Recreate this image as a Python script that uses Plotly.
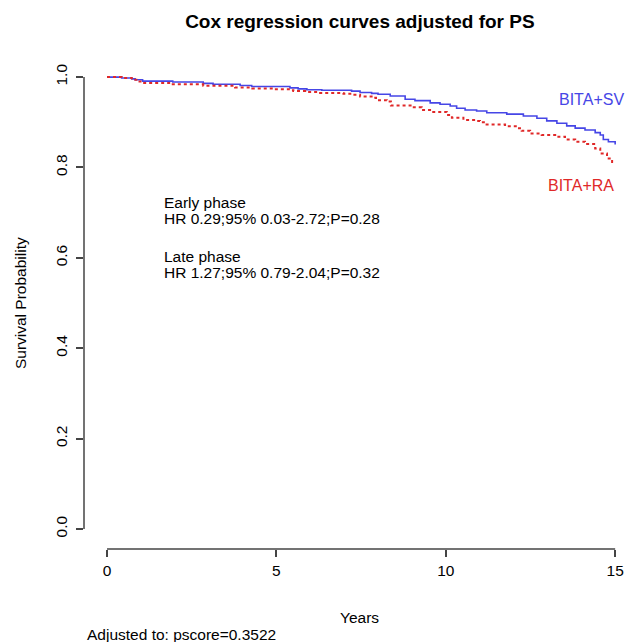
import plotly.graph_objects as go

# ---- data ----
sv_time = [0, 0.43, 0.73, 0.83, 1.05, 1.94, 2.84, 3.13, 3.93, 4.27, 5.4, 5.64, 5.9, 6.34, 7.22,
           7.47, 7.81, 8.0, 8.36, 8.8, 9.09, 9.54, 9.83, 10.13, 10.32, 10.57, 10.91, 11.21, 11.8,
           12.29, 12.69, 12.98, 13.28, 13.57, 13.82, 14.11, 14.41, 14.56, 14.65, 14.8, 15.0]
sv_surv = [1.0, 0.998, 0.996, 0.994, 0.991, 0.989, 0.986, 0.984, 0.9815, 0.979, 0.976, 0.974, 0.972,
           0.971, 0.969, 0.966, 0.964, 0.962, 0.958, 0.951, 0.948, 0.943, 0.940, 0.936, 0.931, 0.927,
           0.925, 0.921, 0.918, 0.914, 0.909, 0.903, 0.898, 0.892, 0.887, 0.883, 0.877, 0.872, 0.862,
           0.857, 0.851]

ra_time = [0, 0.43, 0.73, 0.9, 1.05, 1.94, 2.84, 3.78, 4.29, 4.91, 5.4, 5.5, 5.85, 6.29, 6.98, 7.22,
           7.47, 7.81, 7.94, 8.26, 8.38, 9.0, 9.29, 9.59, 10.03, 10.18, 10.52, 10.91, 11.01, 11.16,
           11.75, 12.1, 12.24, 12.49, 12.83, 13.28, 13.52, 13.82, 14.11, 14.41, 14.56, 14.76, 14.91, 15.0]
ra_surv = [1.0, 0.998, 0.994, 0.990, 0.987, 0.984, 0.981, 0.977, 0.975, 0.973, 0.971, 0.969, 0.967,
           0.965, 0.963, 0.961, 0.957, 0.954, 0.949, 0.946, 0.937, 0.933, 0.927, 0.923, 0.916, 0.910,
           0.905, 0.903, 0.900, 0.895, 0.891, 0.887, 0.881, 0.875, 0.872, 0.868, 0.862, 0.857, 0.852,
           0.842, 0.831, 0.820, 0.812, 0.812]

x_ticks = [0, 5, 10, 15]
y_ticks = [0.0, 0.2, 0.4, 0.6, 0.8, 1.0]
y_tick_text = ["0.0", "0.2", "0.4", "0.6", "0.8", "1.0"]

title_text = "Cox regression curves adjusted for PS"
x_title = "Years"
y_title = "Survival Probability"
footnote = "Adjusted to: pscore=0.3522"
early_lines = ["Early phase", "HR 0.29;95% 0.03-2.72;P=0.28"]
late_lines = ["Late phase", "HR 1.27;95% 0.79-2.04;P=0.32"]

BLUE = "#4646e6"
RED = "#e02828"
AX = "#444444"
FONT = "Liberation Sans, Arial, sans-serif"

fig = go.Figure()
fig.add_trace(go.Scatter(x=sv_time, y=sv_surv, mode="lines", line_shape="hv",
                         line=dict(color=BLUE, width=1.6), name="BITA+SV", showlegend=False))
fig.add_trace(go.Scatter(x=ra_time, y=ra_surv, mode="lines", line_shape="hv",
                         line=dict(color=RED, width=2, dash="dot"), name="BITA+RA", showlegend=False))

# R-style detached axis lines
fig.add_shape(type="line", xref="x", yref="paper", x0=x_ticks[0], x1=x_ticks[-1], y0=0, y1=0,
              line=dict(color=AX, width=1.5))
fig.add_shape(type="line", xref="paper", yref="y", x0=0, x1=0, y0=y_ticks[0], y1=y_ticks[-1],
              line=dict(color=AX, width=1.5))

ann = []
ann.append(dict(text=x_title, xref="paper", yref="paper", x=0.509, y=-0.139, showarrow=False,
                xanchor="center", yanchor="middle", font=dict(size=15.5, color="black", family=FONT)))
ann.append(dict(text=footnote, xref="paper", yref="paper", x=0.002, y=-0.1755, showarrow=False,
                xanchor="left", yanchor="middle", font=dict(size=15.5, color="black", family=FONT)))
ann.append(dict(text=y_title, xref="paper", yref="paper", x=-0.118, y=0.502, showarrow=False,
                textangle=-90, xanchor="center", yanchor="middle",
                font=dict(size=15.5, color="black", family=FONT)))
for txt, yy in zip(early_lines + late_lines, [0.7235, 0.688, 0.604, 0.5686]):
    ann.append(dict(text=txt, xref="x", yref="y", x=1.62, y=yy, showarrow=False,
                    xanchor="left", yanchor="middle", font=dict(size=15.5, color="black", family=FONT)))
ann.append(dict(text="BITA+SV", xref="paper", yref="y", x=1.0, y=0.951, showarrow=False,
                xanchor="right", yanchor="middle", font=dict(size=16, color=BLUE, family=FONT)))
ann.append(dict(text="BITA+RA", xref="x", yref="y", x=15.03, y=0.761, showarrow=False,
                xanchor="right", yanchor="middle", font=dict(size=16, color=RED, family=FONT)))

fig.update_layout(
    width=627, height=642,
    margin=dict(l=84, r=1, t=59, b=93),
    paper_bgcolor="white", plot_bgcolor="white",
    title=dict(text="<b>" + title_text + "</b>", xref="container", yref="container",
               x=0.574, y=1 - 21 / 642, xanchor="center", yanchor="middle",
               font=dict(size=19, color="black", family=FONT)),
    annotations=ann,
    font=dict(family=FONT, color="black"),
)
fig.update_xaxes(range=[-0.68, 15.32], tickvals=x_ticks, ticktext=[str(v) for v in x_ticks],
                 showgrid=False, zeroline=False, showline=False, ticks="outside", ticklen=7,
                 tickwidth=1.5, tickcolor=AX, tickfont=dict(size=15.5, color="black", family=FONT))
fig.update_yaxes(range=[-0.0442, 1.04], tickvals=y_ticks, ticktext=y_tick_text, tickangle=-90,
                 showgrid=False, zeroline=False, showline=False, ticks="outside", ticklen=7,
                 tickwidth=1.5, tickcolor=AX, ticklabelstandoff=3,
                 tickfont=dict(size=15.5, color="black", family=FONT))

fig.write_html("out.html")
